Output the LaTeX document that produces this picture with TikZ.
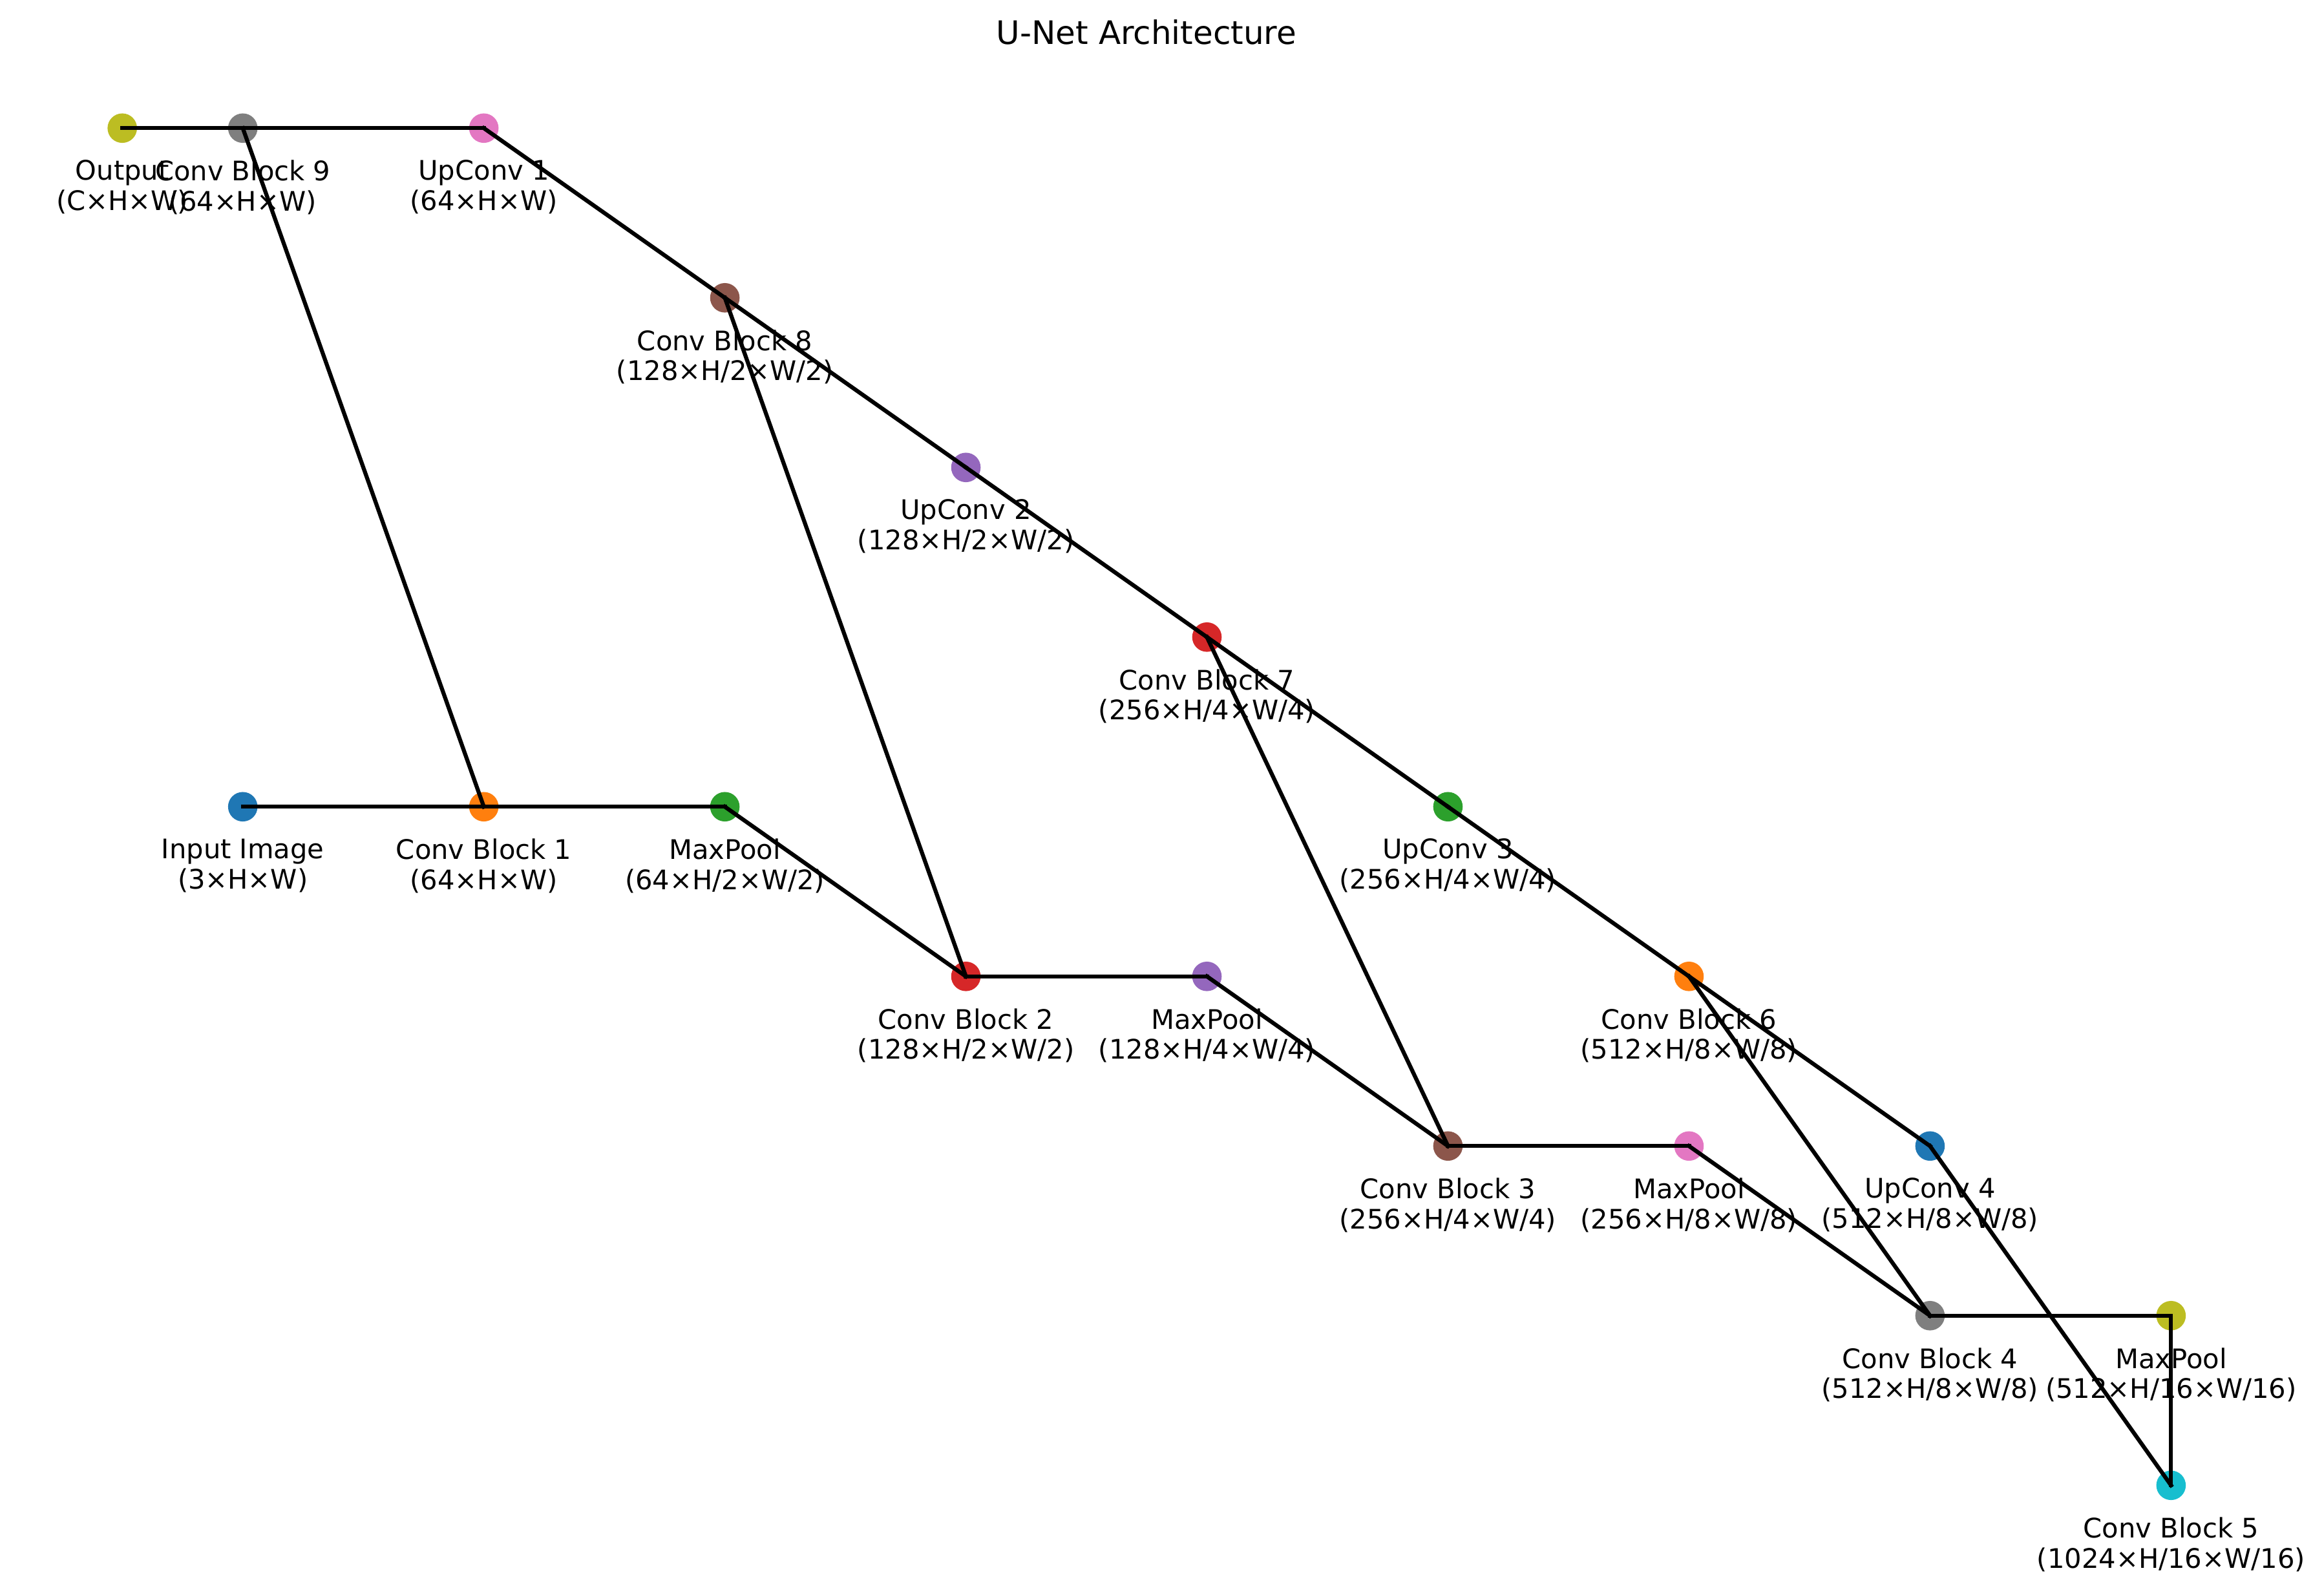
\documentclass[tikz,border=0pt]{standalone}
\usepackage{fontspec}
\setmainfont{DejaVu Sans}
\usepackage{tikz}
\usetikzlibrary{positioning}
\definecolor{tabBlue}{HTML}{1F77B4}
\definecolor{tabOrange}{HTML}{FF7F0E}
\definecolor{tabGreen}{HTML}{2CA02C}
\definecolor{tabRed}{HTML}{D62728}
\definecolor{tabPurple}{HTML}{9467BD}
\definecolor{tabBrown}{HTML}{8C564B}
\definecolor{tabPink}{HTML}{E377C2}
\definecolor{tabGray}{HTML}{7F7F7F}
\definecolor{tabOlive}{HTML}{BCBD22}
\definecolor{tabCyan}{HTML}{17BECF}
\tikzstyle{stage} = [circle, minimum size=10.95bp, inner sep=0pt, outer sep=0pt]
\tikzstyle{stageLabel} = [align=center, inner sep=0pt, outer sep=0pt, font=\fontsize{10bp}{11.2bp}\selectfont, execute at begin node=\rule{0pt}{8bp}]
\tikzstyle{link} = [draw, black, line width=1.5bp, line cap=rect]

\begin{document}
\begin{tikzpicture}[node distance=2.2225cm and 3.1577cm, on grid, label distance=6.45bp]
		\useasboundingbox (-3.1809,-10.3268) rectangle (27.2655,10.569);
		\node[anchor=base, font=\fontsize{12bp}{14bp}\selectfont](title) at (11.839,9.9907){U-Net Architecture};
		%contracting path
		\node[stage, fill=tabBlue, label={[stageLabel]below:Input Image\\(3×H×W)}](input){};
		\node[stage, fill=tabOrange, right=of input, label={[stageLabel]below:Conv Block 1\\(64×H×W)}](block1){};
		\node[stage, fill=tabGreen, right=of block1, label={[stageLabel]below:MaxPool\\(64×H/2×W/2)}](pool1){};
		\node[stage, fill=tabRed, below right=of pool1, label={[stageLabel]below:Conv Block 2\\(128×H/2×W/2)}](block2){};
		\node[stage, fill=tabPurple, right=of block2, label={[stageLabel]below:MaxPool\\(128×H/4×W/4)}](pool2){};
		\node[stage, fill=tabBrown, below right=of pool2, label={[stageLabel]below:Conv Block 3\\(256×H/4×W/4)}](block3){};
		\node[stage, fill=tabPink, right=of block3, label={[stageLabel]below:MaxPool\\(256×H/8×W/8)}](pool3){};
		\node[stage, fill=tabGray, below right=of pool3, label={[stageLabel]below:Conv Block 4\\(512×H/8×W/8)}](block4){};
		\node[stage, fill=tabOlive, right=of block4, label={[stageLabel]below:MaxPool\\(512×H/16×W/16)}](pool4){};
		\node[stage, fill=tabCyan, below=of pool4, label={[stageLabel]below:Conv Block 5\\(1024×H/16×W/16)}](block5){};
		%expanding path
		\node[stage, fill=tabBlue, above=of block4, label={[stageLabel]below:UpConv 4\\(512×H/8×W/8)}](up4){};
		\node[stage, fill=tabOrange, above left=of up4, label={[stageLabel]below:Conv Block 6\\(512×H/8×W/8)}](block6){};
		\node[stage, fill=tabGreen, above left=of block6, label={[stageLabel]below:UpConv 3\\(256×H/4×W/4)}](up3){};
		\node[stage, fill=tabRed, above left=of up3, label={[stageLabel]below:Conv Block 7\\(256×H/4×W/4)}](block7){};
		\node[stage, fill=tabPurple, above left=of block7, label={[stageLabel]below:UpConv 2\\(128×H/2×W/2)}](up2){};
		\node[stage, fill=tabBrown, above left=of up2, label={[stageLabel]below:Conv Block 8\\(128×H/2×W/2)}](block8){};
		\node[stage, fill=tabPink, above left=of block8, label={[stageLabel]below:UpConv 1\\(64×H×W)}](up1){};
		\node[stage, fill=tabGray, left=of up1, label={[stageLabel]below:Conv Block 9\\(64×H×W)}](block9){};
		\node[stage, fill=tabOlive, left=1.5789cm of block9, label={[stageLabel]below:Output\\(C×H×W)}](output){};
		%links
		\path[link](input.center)--(block1.center);
		\path[link](block1.center)--(pool1.center);
		\path[link](pool1.center)--(block2.center);
		\path[link](block2.center)--(pool2.center);
		\path[link](pool2.center)--(block3.center);
		\path[link](block3.center)--(pool3.center);
		\path[link](pool3.center)--(block4.center);
		\path[link](block4.center)--(pool4.center);
		\path[link](pool4.center)--(block5.center);
		\path[link](block5.center)--(up4.center);
		\path[link](up4.center)--(block6.center);
		\path[link](block4.center)--(block6.center);
		\path[link](block6.center)--(up3.center);
		\path[link](up3.center)--(block7.center);
		\path[link](block3.center)--(block7.center);
		\path[link](block7.center)--(up2.center);
		\path[link](up2.center)--(block8.center);
		\path[link](block2.center)--(block8.center);
		\path[link](block8.center)--(up1.center);
		\path[link](up1.center)--(block9.center);
		\path[link](block1.center)--(block9.center);
		\path[link](block9.center)--(output.center);
	\end{tikzpicture}
\end{document}
